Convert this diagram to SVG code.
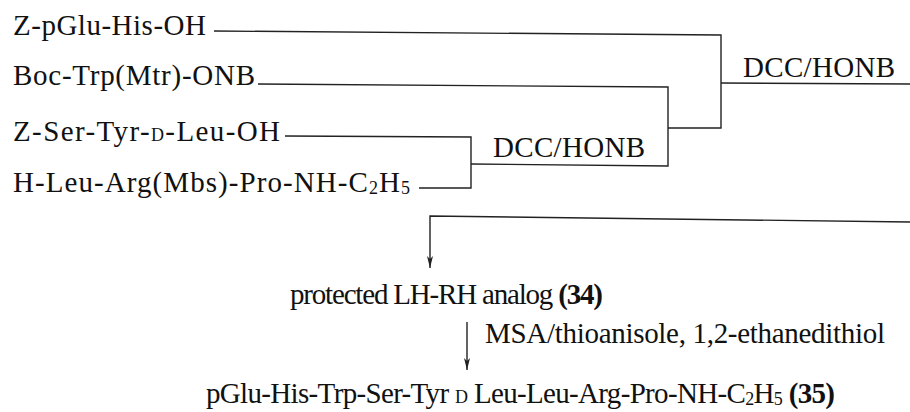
<svg xmlns="http://www.w3.org/2000/svg" width="910" height="412" viewBox="0 0 910 412">
<style>
text{font-family:'Liberation Serif','Times New Roman',serif;font-size:29px;fill:#111}
.sc{font-size:18px}
.sub{font-size:18px}
.b{font-weight:bold}
.ln{fill:none;stroke:#222;stroke-width:1.4}
</style>
<defs>
<marker id="ah" viewBox="0 0 12 6" refX="12" refY="3" markerWidth="12" markerHeight="6" markerUnits="userSpaceOnUse" orient="auto">
<path d="M0,0 L12,3 L0,6 L3,3 Z" fill="#222"/>
</marker>
</defs>
<g id="n1"><text x="13" y="35" textLength="193" lengthAdjust="spacing">Z-pGlu-His-OH</text></g>
<g id="n2"><text x="13" y="85" textLength="242" lengthAdjust="spacing">Boc-Trp(Mtr)-ONB</text></g>
<g id="n3"><text x="13" y="141" textLength="267" lengthAdjust="spacing">Z-Ser-Tyr-<tspan class="sc">D</tspan>-Leu-OH</text></g>
<g id="n4"><text x="13" y="192" textLength="397" lengthAdjust="spacing">H-Leu-Arg(Mbs)-Pro-NH-C<tspan class="sub" dy="2">2</tspan><tspan dy="-2">H</tspan><tspan class="sub" dy="2">5</tspan></text></g>
<g id="r1"><text x="743" y="77" textLength="152" lengthAdjust="spacing">DCC/HONB</text></g>
<g id="r2"><text x="493" y="157" textLength="152" lengthAdjust="spacing">DCC/HONB</text></g>
<g id="n5"><text x="290" y="304" textLength="313" lengthAdjust="spacing">protected LH-RH  analog <tspan class="b">(34)</tspan></text></g>
<g id="r3"><text x="485" y="343" textLength="400" lengthAdjust="spacing">MSA/thioanisole, 1,2-ethanedithiol</text></g>
<g id="n6"><text x="206" y="403" textLength="629" lengthAdjust="spacing">pGlu-His-Trp-Ser-Tyr <tspan class="sc">D</tspan> Leu-Leu-Arg-Pro-NH-C<tspan class="sub" dy="2">2</tspan><tspan dy="-2">H</tspan><tspan class="sub" dy="2">5</tspan><tspan dy="-2" class="b"> (35)</tspan></text></g>
<g id="connectors">
<polyline class="ln" points="214,31 721,35 721,128 668,128"/>
<polyline class="ln" points="258,84 668,87 668,166 471,164"/>
<polyline class="ln" points="285,136 471,137 471,188 419,188"/>
<line class="ln" x1="721" y1="83" x2="910" y2="84"/>
<polyline class="ln" points="910,222 430,216 430,268" marker-end="url(#ah)"/>
<line class="ln" x1="467" y1="322" x2="467" y2="370" marker-end="url(#ah)"/>
</g>
</svg>
